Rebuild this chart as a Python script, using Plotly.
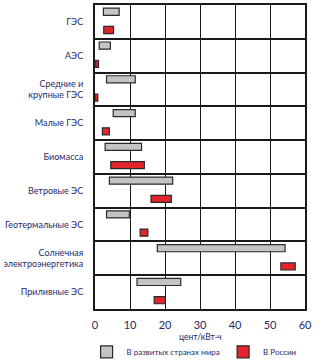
import plotly.graph_objects as go

# Cost of electricity by generation type, cents per kWh (low / high bounds)
categories = [
    "ГЭС",
    "АЭС",
    "Средние и<br>крупные ГЭС",
    "Малые ГЭС",
    "Биомасса",
    "Ветровые ЭС",
    "Геотермальные ЭС",
    "Солнечная<br>электроэнергетика",
    "Приливные ЭС",
]
world_low = [2.4, 1.2, 3.3, 5.2, 2.9, 4.1, 3.3, 17.8, 12.0]
world_high = [6.9, 4.4, 11.5, 11.5, 13.3, 22.2, 9.8, 54.3, 24.5]
russia_low = [2.5, 0.2, 0.0, 2.1, 4.5, 16.0, 12.9, 53.1, 16.9]
russia_high = [5.3, 1.0, 0.8, 4.1, 14.1, 21.8, 15.1, 57.2, 20.1]
x_ticks = [0, 10, 20, 30, 40, 50, 60]

FONT = "Lato"
LABEL_COLOR = "#1f2a6b"

fig = go.Figure()
fig.add_trace(go.Bar(
    name="В развитых странах мира",
    orientation="h",
    y=categories,
    x=[h - l for l, h in zip(world_low, world_high)],
    base=world_low,
    offset=-0.405,
    width=0.21,
    marker=dict(color="#c4c4c4", line=dict(color="#2a2a2a", width=1.2)),
    legend="legend",
))
fig.add_trace(go.Bar(
    name="В России",
    orientation="h",
    y=categories,
    x=[h - l for l, h in zip(russia_low, russia_high)],
    base=russia_low,
    offset=0.135,
    width=0.21,
    marker=dict(color="#e3242b", line=dict(color="#2a2a2a", width=1.2)),
    legend="legend2",
))

legend_style = dict(
    orientation="h", yanchor="middle", y=-0.141, xanchor="left",
    font=dict(family=FONT, size=8, color=LABEL_COLOR),
    itemwidth=30, bgcolor="rgba(0,0,0,0)",
)

fig.update_layout(
    width=323, height=360,
    margin=dict(l=95, r=18, t=5, b=51, autoexpand=False),
    paper_bgcolor="white", plot_bgcolor="white",
    barmode="overlay",
    showlegend=True,
    legend=dict(x=-0.04, **legend_style),
    legend2=dict(x=0.61, **legend_style),
    font=dict(family=FONT, size=9, color=LABEL_COLOR),
    annotations=[dict(
        text="цент/кВт·ч", xref="paper", yref="paper",
        x=0.5, y=-0.092, xanchor="center", yanchor="middle",
        showarrow=False, font=dict(family=FONT, size=8.5, color=LABEL_COLOR),
    )],
)
fig.update_xaxes(
    range=[0, 60], tickvals=x_ticks,
    showgrid=True, gridcolor="#1a1a1a", gridwidth=1.2,
    zeroline=False,
    showline=True, linecolor="#1a1a1a", linewidth=2, mirror=True,
    ticks="", ticklabelstandoff=5,
    tickfont=dict(family=FONT, size=11, color="#1f2a6b"),
    automargin=False,
    fixedrange=True,
)
fig.update_yaxes(
    type="category", categoryorder="array", categoryarray=categories,
    autorange="reversed",
    tickson="boundaries",
    showgrid=True, gridcolor="#1a1a1a", gridwidth=1.5,
    showline=True, linecolor="#1a1a1a", linewidth=2, mirror=True,
    ticks="", ticklabelstandoff=8,
    tickfont=dict(family=FONT, size=9, color=LABEL_COLOR),
    automargin=False,
    fixedrange=True,
)

fig.write_html("out.html")
